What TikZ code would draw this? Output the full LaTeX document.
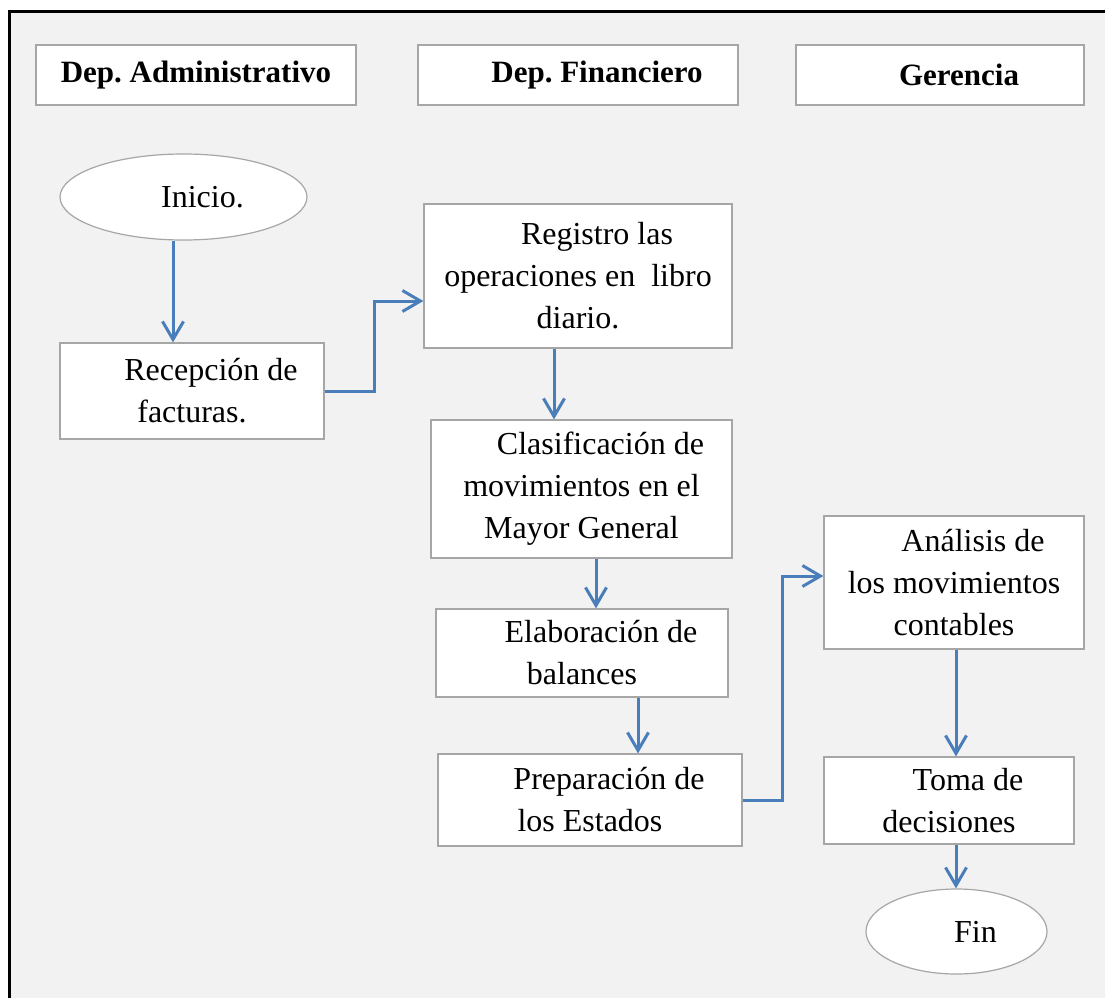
\documentclass[tikz,border=0pt]{standalone}
\usepackage{fontspec}
\setmainfont{Liberation Serif}
\usetikzlibrary{arrows.meta,shapes.geometric}
\definecolor{flowblue}{HTML}{4A7EBB}
\definecolor{boxgray}{HTML}{A6A6A6}
\definecolor{pagegray}{HTML}{F2F2F2}
\newcommand{\firstpad}{\hspace*{19pt}}
\frenchspacing
\begin{document}
\begin{tikzpicture}[x=0.5pt,y=-0.5pt,
    box/.style={draw=boxgray,line width=0.6pt,fill=white,inner sep=0pt,
      align=center,font=\fontsize{16}{21}\selectfont},
    head/.style={box,minimum height=30pt,font=\fontsize{15.5}{18}\selectfont\bfseries},
    term/.style={box,ellipse},
    flow/.style={draw=flowblue,line width=1.5pt,-{Straight Barb[length=9pt,width=10.5pt]}}]
  \useasboundingbox (0,0) rectangle (1105,998);
  \fill[pagegray] (9,11) rectangle (1105,998);
  \draw[line width=1.5pt] (9,998) -- (9,11) -- (1105,11);
  % departamentos
  \node[head,minimum width=160pt] (adm) at (196,75) {Dep. Administrativo};
  \node[head,minimum width=160pt] (fin) at (578,75) {\firstpad Dep. Financiero};
  \node[head,minimum width=144pt] (ger) at (940,75) {\firstpad Gerencia};
  % pasos
  \node[term,minimum width=123.5pt,minimum height=43pt] (ini) at (183.5,197) {\firstpad Inicio.};
  \node[box,minimum width=132pt,minimum height=48pt] (rec) at (192,391)
    {\firstpad Recepción de\\facturas.};
  \node[box,minimum width=154pt,minimum height=72pt] (reg) at (578,276)
    {\firstpad Registro las\\operaciones en~\ libro\\diario.};
  \node[box,minimum width=150.5pt,minimum height=69pt] (cla) at (581.5,489)
    {\firstpad Clasificación de\\movimientos en el\\Mayor General};
  \node[box,minimum width=146pt,minimum height=44pt] (ela) at (582,653)
    {\firstpad Elaboración de\\balances};
  \node[box,minimum width=152pt,minimum height=46pt] (pre) at (590,800)
    {\firstpad Preparación de\\los Estados};
  \node[box,minimum width=130pt,minimum height=66.5pt] (ana) at (954,582.5)
    {\firstpad Análisis de\\los movimientos\\contables};
  \node[box,minimum width=125pt,minimum height=43.5pt] (tom) at (949,800.5)
    {\firstpad Toma de\\decisiones};
  \node[term,minimum width=90.5pt,minimum height=42.5pt] (end) at (956.5,931.5) {\firstpad Fin};
  % flechas
  \coordinate (k1) at (374,301);
  \coordinate (k2) at (782,576);
  \draw[flow] (ini.south -| 173,0) -- (rec.north -| 173,0);
  \draw[flow] (rec.east) -| (k1) -- (k1 -| reg.west);
  \draw[flow] (reg.south -| 554,0) -- (cla.north -| 554,0);
  \draw[flow] (cla.south -| 596,0) -- (ela.north -| 596,0);
  \draw[flow] (ela.south -| 638,0) -- (pre.north -| 638,0);
  \draw[flow] (pre.east) -| (k2) -- (k2 -| ana.west);
  \draw[flow] (ana.south -| 956,0) -- (tom.north -| 956,0);
  \draw[flow] (tom.south -| 956,0) -- (end.north -| 956,0);
\end{tikzpicture}
\end{document}
